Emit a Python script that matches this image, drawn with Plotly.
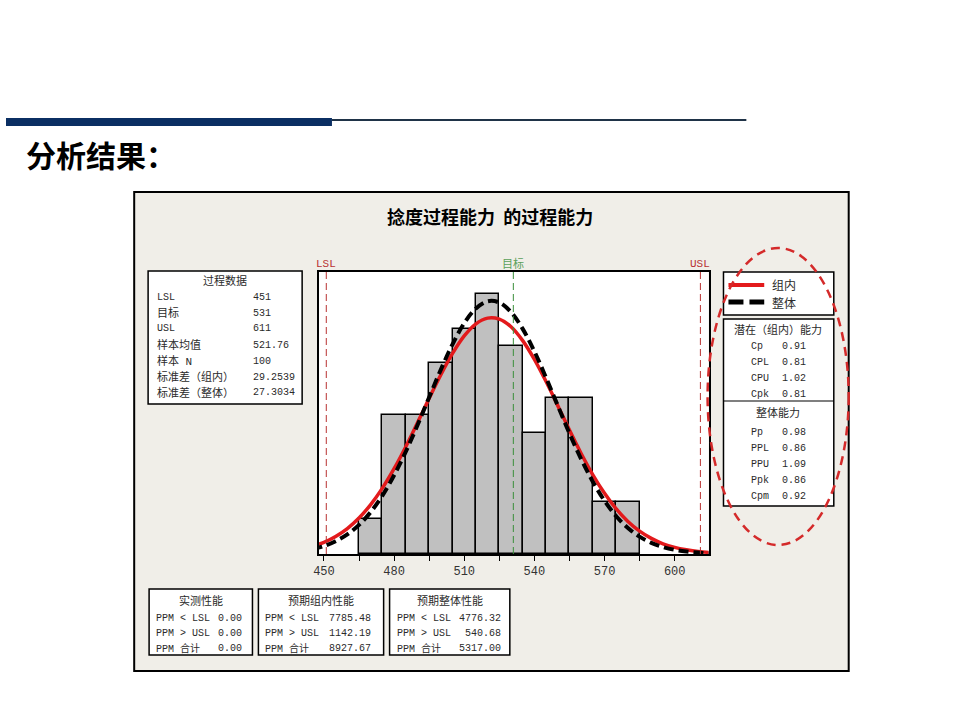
import plotly.graph_objects as go

# histogram of twist (捻度) samples, bin width 10
bin_centers = [470, 480, 490, 500, 510, 520, 530, 540, 550, 560, 570, 580]
bin_counts = [2, 8, 8, 11, 13, 15, 12, 7, 9, 9, 3, 3]

# fitted normal curves (counts per bin), read at 5-unit steps
curve_x = [445, 450, 455, 460, 465, 470, 475, 480, 485, 490, 495, 500,
           505, 510, 515, 520, 525, 530, 535, 540, 545, 550, 555, 560,
           565, 570, 575, 580, 585, 590, 595, 600, 605, 610, 615]
within_y = [0.44, 0.67, 1.01, 1.47, 2.08, 2.85, 3.80, 4.92, 6.19, 7.57, 8.98, 10.34,
            11.57, 12.58, 13.28, 13.61, 13.55, 13.11, 12.31, 11.23, 9.95, 8.56, 7.15, 5.80,
            4.57, 3.50, 2.60, 1.88, 1.32, 0.90, 0.59, 0.38, 0.24, 0.14, 0.09]
overall_y = [0.28, 0.46, 0.74, 1.13, 1.68, 2.42, 3.37, 4.54, 5.90, 7.43, 9.04, 10.64,
             12.10, 13.32, 14.17, 14.58, 14.51, 13.96, 12.99, 11.69, 10.17, 8.56, 6.96, 5.48,
             4.17, 3.07, 2.18, 1.50, 1.00, 0.64, 0.40, 0.24, 0.14, 0.08, 0.04]

LSL, TARGET, USL = 451, 531, 611
x_ticks = [450, 480, 510, 540, 570, 600]
x_minor = [465, 495, 525, 555, 585]

proc_labels = ["LSL", "目标", "USL", "样本均值", "样本 N", "标准差（组内）", "标准差（整体）"]
proc_values = ["451", "531", "611", "521.76", "100", "29.2539", "27.3034"]

within_cap_labels = ["Cp", "CPL", "CPU", "Cpk"]
within_cap_values = ["0.91", "0.81", "1.02", "0.81"]
overall_cap_labels = ["Pp", "PPL", "PPU", "Ppk", "Cpm"]
overall_cap_values = ["0.98", "0.86", "1.09", "0.86", "0.92"]

ppm_labels = ["PPM < LSL", "PPM > USL", "PPM 合计"]
observed_ppm = ["0.00", "0.00", "0.00"]
exp_within_ppm = ["7785.48", "1142.19", "8927.67"]
exp_overall_ppm = ["4776.32", "540.68", "5317.00"]

W, H = 960, 720
MONO = "Liberation Mono, Noto Sans CJK SC, monospace"
CJK = "Noto Sans CJK SC, sans-serif"
TXT = "#2a2a2a"


def px(x):
    return x / W


def py(y):
    return 1 - y / H


fig = go.Figure()

fig.add_trace(go.Bar(x=bin_centers, y=bin_counts, width=10,
                     marker=dict(color="#c0c0c0", line=dict(color="black", width=1.5)),
                     showlegend=False, hoverinfo="x+y"))
fig.add_trace(go.Scatter(x=curve_x, y=within_y, mode="lines", line_shape="spline",
                         line=dict(color="#e31a1c", width=3.5), name="组内", showlegend=False))
fig.add_trace(go.Scatter(x=curve_x, y=overall_y, mode="lines", line_shape="spline",
                         line=dict(color="black", width=4, dash="10px,5px"), name="整体",
                         showlegend=False))

shapes = []
annots = []


def box(x0, y0, x1, y1, fill="white", width=1.5):
    shapes.append(dict(type="rect", xref="paper", yref="paper", x0=px(x0), x1=px(x1),
                       y0=py(y1), y1=py(y0), fillcolor=fill,
                       line=dict(color="black", width=width), layer="below"))


def hline(x0, x1, y, color, width):
    shapes.append(dict(type="line", xref="paper", yref="paper", x0=px(x0), x1=px(x1),
                       y0=py(y), y1=py(y), line=dict(color=color, width=width)))


def text(x, y, s, anchor="left", size=None, color=TXT, family=MONO, bold=False):
    if size is None:
        # CJK strings read a little larger than the latin/digit ones
        size = 11 if any(ord(c) > 127 for c in s) else 10
    if bold:
        s = "<b>" + s + "</b>"
    annots.append(dict(xref="paper", yref="paper", x=px(x), y=py(y), text=s,
                       showarrow=False, xanchor=anchor, yanchor="middle",
                       font=dict(size=size, color=color, family=family)))


# slide header
shapes.append(dict(type="rect", xref="paper", yref="paper", x0=0, x1=px(328),
                   y0=py(126), y1=py(118), fillcolor="#0b2f63", line=dict(width=0)))
hline(328, 745, 120, "#1f3347", 2)
text(18, 154, "分析结果：", size=30, color="black", family=CJK, bold=True)

# chart panel and plot area background
box(129, 192, 848, 671, fill="#f0eee8", width=2)
box(315, 272, 707, 554, fill="white", width=0)
text(487, 216, "捻度过程能力  的过程能力", anchor="center", size=18, color="black",
     family=CJK, bold=True)

# spec lines
for xv, col in [(LSL, "#b83232"), (USL, "#b83232"), (TARGET, "#3a8f3a")]:
    shapes.append(dict(type="line", xref="x", yref="y domain", x0=xv, x1=xv, y0=0, y1=1,
                       line=dict(color=col, width=1, dash="7px,4px")))
for xv, lab, col in [(LSL, "LSL", "#b83232"), (TARGET, "目标", "#5aa05a"), (USL, "USL", "#b83232")]:
    annots.append(dict(xref="x", yref="paper", x=xv, y=py(264), text=lab, showarrow=False,
                       xanchor="center", yanchor="middle",
                       font=dict(size=11, color=col, family=MONO)))

# process data box
box(143, 271, 298, 404)
text(220, 281, "过程数据", anchor="center")
for i, (lab, val) in enumerate(zip(proc_labels, proc_values)):
    yy = 297 + i * 16
    text(150, yy, lab)
    text(247, yy, val)

# legend box
box(722, 272, 833, 315)
hline(727, 763, 285, "#e31a1c", 4)
shapes.append(dict(type="line", xref="paper", yref="paper", x0=px(727), x1=px(763),
                   y0=py(302), y1=py(302), line=dict(color="black", width=5, dash="15px,6px")))
text(769, 285, "组内", size=12, family=CJK)
text(769, 302, "整体", size=12, family=CJK)

# capability box
box(722, 319, 833, 506)
text(777, 330, "潜在（组内）能力", anchor="center")
for lab, val, yy in zip(within_cap_labels, within_cap_values, [346, 362, 378, 394]):
    text(748, yy, lab)
    text(779, yy, val)
hline(722, 833, 401, "black", 1.2)
text(777, 413, "整体能力", anchor="center")
for lab, val, yy in zip(overall_cap_labels, overall_cap_values, [432, 448, 464, 480, 496]):
    text(748, yy, lab)
    text(779, yy, val)

# ppm boxes
for (x0, x1, vx, title, vals) in [(144, 248, 239, "实测性能", observed_ppm),
                                  (254, 380, 369, "预期组内性能", exp_within_ppm),
                                  (386, 507, 500, "预期整体性能", exp_overall_ppm)]:
    box(x0, 589, x1, 655)
    text((x0 + x1) / 2, 601, title, anchor="center")
    for i, (lab, val) in enumerate(zip(ppm_labels, vals)):
        yy = 618 + i * 15
        text(x0 + 5, yy, lab, size=10)
        text(vx, yy, val, anchor="right")

# red dashed highlight ellipse
shapes.append(dict(type="circle", xref="paper", yref="paper", x0=px(706), x1=px(848),
                   y0=py(545), y1=py(248), line=dict(color="#d42a2a", width=2.5, dash="9px,6px")))

fig.update_layout(
    width=W, height=H, autosize=False,
    margin=dict(l=0, r=0, t=0, b=0),
    paper_bgcolor="white", plot_bgcolor="white",
    bargap=0, shapes=shapes, annotations=annots,
    xaxis=dict(domain=[px(315), px(707)], range=[447.9, 614.5],
               tickvals=x_ticks, ticks="outside", ticklen=5, tickwidth=1.2, tickcolor="black",
               minor=dict(tickvals=x_minor, ticks="outside", ticklen=5, tickcolor="black"),
               showline=True, linecolor="black", linewidth=2, mirror=True,
               showgrid=False, zeroline=False,
               tickfont=dict(size=12, color="#333", family=MONO)),
    yaxis=dict(domain=[py(554), py(272)], range=[0, 16.27],
               showticklabels=False, ticks="", showgrid=False, zeroline=False,
               showline=True, linecolor="black", linewidth=2, mirror=True),
)

# page body has a default margin; remove it so the figure sits at the window origin
fig.write_html("out.html", config={"displayModeBar": False},
               post_script="document.body.style.margin='0px';")
